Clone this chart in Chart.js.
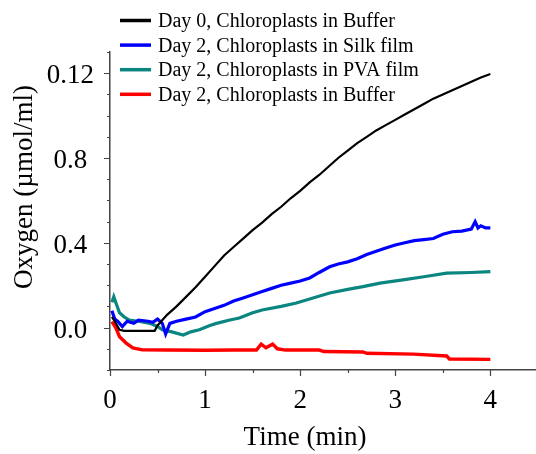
<!DOCTYPE html>
<html>
<head>
<meta charset="utf-8">
<script src="https://cdn.jsdelivr.net/npm/chart.js@4"></script>
<style>
  body { margin: 0; background: #fff; }
</style>
</head>
<body>
<canvas id="myChart" width="536" height="454"></canvas>
<script>
// Datos
const seriesLabels = [
    'Day 0, Chloroplasts in Buffer',
    'Day 2, Chloroplasts in Silk film',
    'Day 2, Chloroplasts in PVA film',
    'Day 2, Chloroplasts in Buffer'
];
const seriesColors = ['#000000', '#0000ff', '#0a8580', '#ff0000'];

const tBlack = [0.02, 0.05, 0.1, 0.15, 0.2, 0.3, 0.4, 0.47, 0.5, 0.6, 0.7, 0.8, 0.9, 1.0,
    1.1, 1.2, 1.3, 1.4, 1.5, 1.6, 1.7, 1.8, 1.9, 2.0, 2.1, 2.2, 2.3, 2.4, 2.5, 2.6, 2.7,
    2.8, 2.9, 3.0, 3.1, 3.2, 3.3, 3.4, 3.5, 3.6, 3.7, 3.8, 3.9, 4.0];
const vBlack = [0.05, 0.03, -0.01, -0.015, -0.015, -0.015, -0.015, -0.015, 0.01, 0.06, 0.10, 0.145, 0.19, 0.24,
    0.29, 0.34, 0.38, 0.42, 0.46, 0.495, 0.535, 0.57, 0.61, 0.645, 0.685, 0.72, 0.76, 0.80, 0.835, 0.87, 0.90,
    0.93, 0.955, 0.98, 1.005, 1.03, 1.055, 1.08, 1.10, 1.12, 1.14, 1.16, 1.18, 1.196];

const tBlue = [0.02, 0.05, 0.08, 0.13, 0.18, 0.25, 0.3, 0.4, 0.45, 0.5, 0.55, 0.585, 0.63, 0.7, 0.8, 0.9,
    1.0, 1.1, 1.2, 1.3, 1.4, 1.5, 1.6, 1.7, 1.8, 1.9, 2.0, 2.1, 2.2, 2.31, 2.4, 2.5, 2.6, 2.7, 2.8, 2.9,
    3.0, 3.1, 3.2, 3.3, 3.4, 3.5, 3.6, 3.7, 3.8, 3.84, 3.87, 3.9, 3.95, 4.0];
const vBlue = [0.08, 0.04, 0.03, 0.005, 0.03, 0.02, 0.035, 0.03, 0.025, 0.04, 0.02, -0.03, 0.02, 0.03, 0.04, 0.05,
    0.075, 0.09, 0.105, 0.125, 0.14, 0.155, 0.17, 0.185, 0.20, 0.21, 0.22, 0.234, 0.26, 0.287, 0.30, 0.31, 0.325, 0.345, 0.36, 0.375,
    0.39, 0.40, 0.41, 0.415, 0.42, 0.44, 0.452, 0.455, 0.465, 0.50, 0.47, 0.48, 0.47, 0.47];

const tTeal = [0.02, 0.04, 0.06, 0.1, 0.15, 0.2, 0.3, 0.42, 0.5, 0.55, 0.65, 0.77, 0.85, 0.94, 1.05, 1.12,
    1.26, 1.36, 1.5, 1.6, 1.8, 1.96, 2.1, 2.31, 2.5, 2.66, 2.84, 3.08, 3.3, 3.54, 3.8, 4.0];
const vTeal = [0.12, 0.146, 0.12, 0.07, 0.05, 0.036, 0.03, 0.02, 0.005, -0.01, -0.02, -0.035, -0.02, -0.01, 0.01, 0.02,
    0.036, 0.045, 0.07, 0.083, 0.10, 0.116, 0.135, 0.163, 0.18, 0.193, 0.21, 0.225, 0.24, 0.257, 0.26, 0.264];

const tRed = [0.02, 0.06, 0.1, 0.17, 0.24, 0.34, 0.6, 1.0, 1.3, 1.54, 1.59, 1.64, 1.71, 1.76, 1.85,
    2.2, 2.25, 2.66, 2.7, 3.19, 3.54, 3.57, 4.0];
const vRed = [0.028, 0.0, -0.043, -0.073, -0.096, -0.105, -0.106, -0.107, -0.106, -0.106, -0.078, -0.095, -0.078, -0.1, -0.106,
    -0.106, -0.113, -0.115, -0.121, -0.125, -0.134, -0.148, -0.15];

const xTicks = [0, 1, 2, 3, 4];
const xTickLabels = ['0', '1', '2', '3', '4'];
const yTicks = [0, 0.4, 0.8, 1.2];
const yTickLabels = ['0.0', '0.4', '0.8', '0.12'];

const xTitle = 'Time (min)';
const yTitle = 'Oxygen (µmol/ml)';

const fuente = '"Liberation Serif", "Times New Roman", serif';

function puntos(ts, vs) {
    return ts.map((t, i) => ({ x: t, y: vs[i] }));
}

// Marcas de los ejes, títulos y leyenda dibujados a mano
const extras = {
    id: 'extras',
    afterDraw(chart) {
        const ctx = chart.ctx;
        const xs = chart.scales.x;
        const ys = chart.scales.y;
        const area = chart.chartArea;
        ctx.save();
        ctx.strokeStyle = '#444';
        ctx.lineWidth = 1.2;
        ctx.beginPath();
        for (let k = -2; k <= 13; k++) {
            const py = Math.round(ys.getPixelForValue(k / 10)) + 0.5;
            const len = (k >= 0 && k % 4 === 0) ? 6 : 3;
            ctx.moveTo(area.left - len, py);
            ctx.lineTo(area.left, py);
        }
        for (let k = 0; k <= 8; k++) {
            const px = Math.round(xs.getPixelForValue(k / 2)) + 0.5;
            const len = (k % 2 === 0) ? 6 : 3;
            ctx.moveTo(px, area.bottom);
            ctx.lineTo(px, area.bottom + len);
        }
        ctx.stroke();

        // títulos de ejes
        ctx.fillStyle = '#000';
        ctx.font = '27px ' + fuente;
        ctx.textAlign = 'center';
        ctx.textBaseline = 'alphabetic';
        ctx.fillText(xTitle, 305, 445);
        ctx.save();
        ctx.translate(31.5, 187);
        ctx.rotate(-Math.PI / 2);
        ctx.fillText(yTitle, 0, 0);
        ctx.restore();

        // leyenda
        ctx.font = '20px ' + fuente;
        ctx.textAlign = 'left';
        chart.data.datasets.forEach((ds, i) => {
            const y = 20.5 + 24.6 * i;
            ctx.strokeStyle = ds.borderColor;
            ctx.lineWidth = 3.5;
            ctx.beginPath();
            ctx.moveTo(120, y);
            ctx.lineTo(151, y);
            ctx.stroke();
            ctx.fillText(ds.label, 158, y + 6.5);
        });
        ctx.restore();
    }
};

const ctx = document.getElementById('myChart').getContext('2d');
const myChart = new Chart(ctx, {
    type: 'line',
    data: {
        datasets: [
            { label: seriesLabels[0], data: puntos(tBlack, vBlack), borderColor: seriesColors[0], borderWidth: 2.2 },
            { label: seriesLabels[1], data: puntos(tBlue, vBlue), borderColor: seriesColors[1], borderWidth: 3.2 },
            { label: seriesLabels[2], data: puntos(tTeal, vTeal), borderColor: seriesColors[2], borderWidth: 3.2 },
            { label: seriesLabels[3], data: puntos(tRed, vRed), borderColor: seriesColors[3], borderWidth: 3.4 }
        ]
    },
    options: {
        responsive: false,
        animation: false,
        layout: { padding: { top: 52, right: 0, left: 0, bottom: 0 } },
        elements: { point: { radius: 0 }, line: { tension: 0 } },
        plugins: { legend: { display: false }, tooltip: { enabled: false } },
        scales: {
            x: {
                type: 'linear',
                min: 0,
                max: 4.48,
                afterFit: s => { s.height = 84; },
                afterBuildTicks: s => { s.ticks = xTicks.map(v => ({ value: v })); },
                grid: { drawOnChartArea: false, drawTicks: false },
                border: { color: '#444', width: 1.5 },
                ticks: {
                    padding: 15,
                    color: '#000',
                    font: { family: fuente, size: 27 },
                    callback: (v, i) => xTickLabels[i]
                }
            },
            y: {
                type: 'linear',
                min: -0.2,
                max: 1.3,
                afterFit: s => { s.width = 110; },
                afterBuildTicks: s => { s.ticks = yTicks.map(v => ({ value: v })); },
                grid: { drawOnChartArea: false, drawTicks: false },
                border: { color: '#444', width: 1.5 },
                ticks: {
                    padding: 16,
                    labelOffset: 3,
                    crossAlign: 'center',
                    color: '#000',
                    font: { family: fuente, size: 27 },
                    callback: (v, i) => yTickLabels[i]
                }
            }
        }
    },
    plugins: [extras]
});
</script>
</body>
</html>
